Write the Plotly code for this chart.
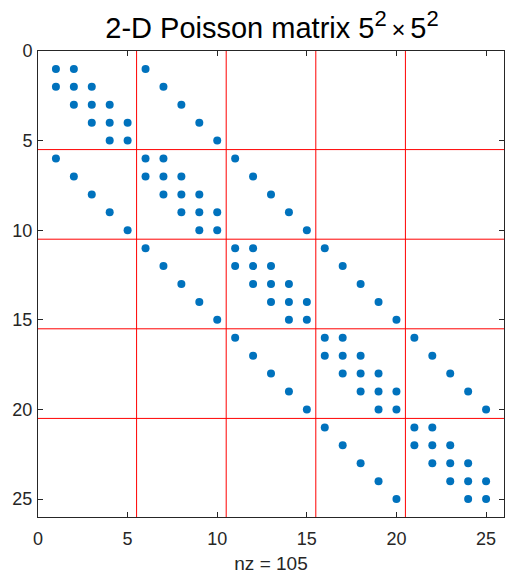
import plotly.graph_objects as go

# Nonzero pattern of the 25x25 five-point Poisson matrix: column indices per row
row_ids = list(range(1, 26))
row_cols = [
    [1, 2, 6],
    [1, 2, 3, 7],
    [2, 3, 4, 8],
    [3, 4, 5, 9],
    [4, 5, 10],
    [1, 6, 7, 11],
    [2, 6, 7, 8, 12],
    [3, 7, 8, 9, 13],
    [4, 8, 9, 10, 14],
    [5, 9, 10, 15],
    [6, 11, 12, 16],
    [7, 11, 12, 13, 17],
    [8, 12, 13, 14, 18],
    [9, 13, 14, 15, 19],
    [10, 14, 15, 20],
    [11, 16, 17, 21],
    [12, 16, 17, 18, 22],
    [13, 17, 18, 19, 23],
    [14, 18, 19, 20, 24],
    [15, 19, 20, 25],
    [16, 21, 22],
    [17, 21, 22, 23],
    [18, 22, 23, 24],
    [19, 23, 24, 25],
    [20, 24, 25],
]
block_edges = [5.5, 10.5, 15.5, 20.5]
tick_vals = [0, 5, 10, 15, 20, 25]

xs, ys = [], []
for r, cols in zip(row_ids, row_cols):
    for c in cols:
        xs.append(c)
        ys.append(r)
nz = len(xs)

axis_color = "#262626"
font_family = "Liberation Sans, Arial, sans-serif"

fig = go.Figure()
fig.add_trace(go.Scatter(
    x=xs, y=ys, mode="markers",
    marker=dict(color="#0072BD", size=8, line=dict(width=0)),
    hoverinfo="skip", showlegend=False,
))

for e in block_edges:
    fig.add_shape(type="line", xref="x", yref="y", x0=e, x1=e, y0=0, y1=26,
                  line=dict(color="red", width=1))
    fig.add_shape(type="line", xref="x", yref="y", x0=0, x1=26, y0=e, y1=e,
                  line=dict(color="red", width=1))

axis_common = dict(
    showgrid=False, zeroline=False, showline=True, mirror="ticks",
    linecolor=axis_color, linewidth=1, ticks="inside", ticklen=5,
    tickcolor=axis_color, tickvals=tick_vals,
    tickfont=dict(family=font_family, size=18, color=axis_color),
)

fig.update_xaxes(range=[0, 26], ticklabelstandoff=5, **axis_common,
                 title=dict(text=f"nz = {nz}", standoff=9,
                            font=dict(family=font_family, size=19, color=axis_color)))
fig.update_yaxes(range=[26, 0], ticklabelstandoff=1, **axis_common)

sq = "<sup><span style='font-size:22px'>2</span></sup>"
title_text = ("2-D Poisson matrix 5" + sq +
              "<span style='font-size:24px'>\u2009\u00d7\u2009</span>5" + sq)

fig.update_layout(
    width=506, height=574,
    margin=dict(l=38, r=2, t=51, b=57),
    plot_bgcolor="white", paper_bgcolor="white",
    title=dict(text=title_text,
               x=272 / 506, xanchor="center",
               y=1 - 28 / 574, yanchor="middle", yref="container",
               font=dict(family=font_family, size=29, color="black")),
)

fig.write_html("out.html")
